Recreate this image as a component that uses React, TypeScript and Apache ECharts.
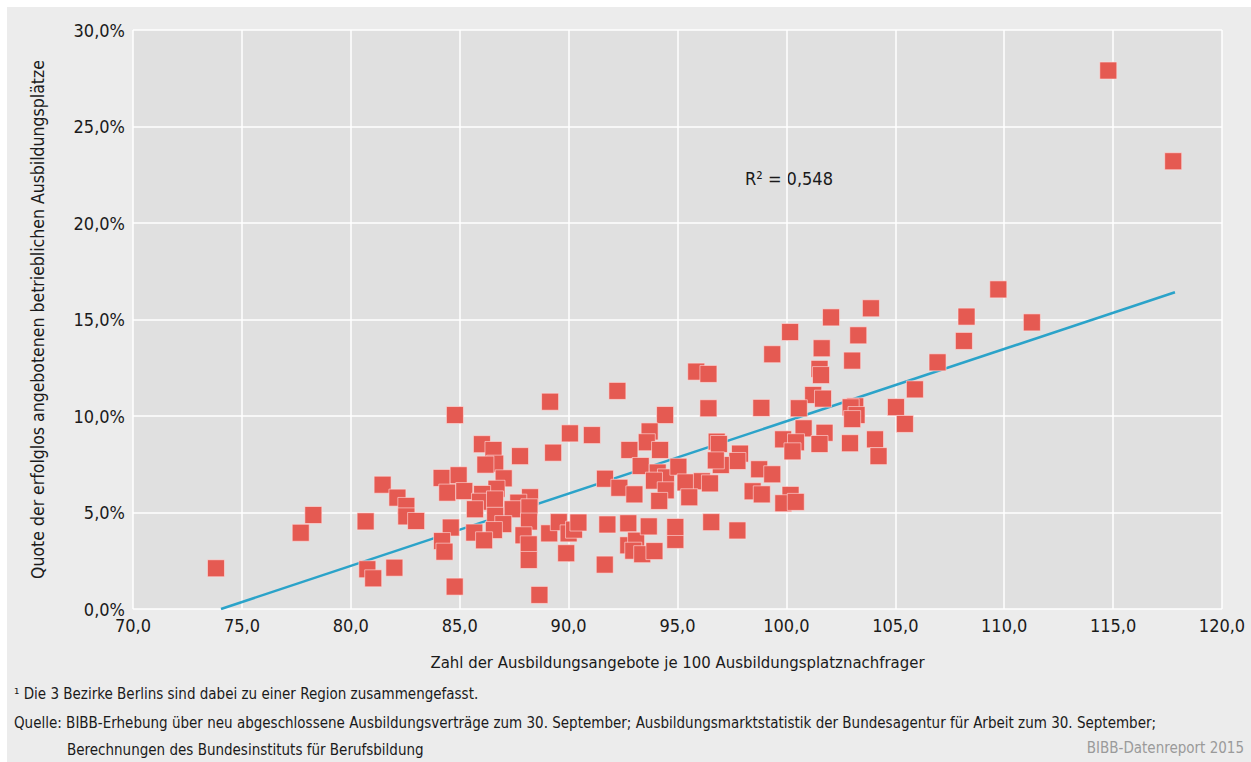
import React, { useEffect, useRef } from "react";
import * as echarts from "echarts";

// Zahl der Ausbildungsangebote je 100 Nachfrager (x) and Quote erfolglos angebotener Plätze in % (y)
const offerRatio: number[] = [
  73.81, 77.7, 78.28, 80.68, 80.76, 81.03, 81.46, 82.0, 82.14, 82.55, 82.55, 83.0,
  84.17, 84.95, 84.43, 85.21, 84.59, 84.19, 84.3, 84.78, 84.77, 86.02, 86.55, 86.63,
  86.18, 87.02, 87.77, 89.29, 90.06, 91.07, 89.15, 86.69, 88.23, 86.03, 85.93, 85.7,
  86.62, 87.69, 87.43, 88.2, 86.63, 87.0, 88.18, 86.57, 85.67, 86.12, 87.93, 88.17,
  88.17, 88.66, 89.11, 89.55, 89.89, 90.0, 90.25, 90.45,
  91.66, 91.78, 92.74, 92.74, 93.1, 92.97, 93.38, 93.68, 93.94, 94.9, 94.9, 96.55, 97.75,
  92.24, 96.42, 94.43, 95.86, 96.42, 93.72, 93.59, 94.2, 92.79, 96.8, 96.9, 97.87,
  97.75, 96.99, 96.76, 93.31, 94.09, 94.47, 93.92, 95.04, 95.37, 96.12, 96.49, 94.46,
  95.54, 94.16, 91.67, 92.33, 93.02, 98.45, 98.87, 100.19, 99.86, 100.43, 98.75, 99.35,
  99.35, 100.17, 101.62, 103.3, 103.02, 101.52, 101.59, 102.05, 103.88, 109.73, 108.27,
  111.27, 108.15, 106.94, 105.9, 101.23, 101.68, 98.85, 100.57, 103.16, 102.95, 103.22,
  103.02, 105.03, 105.44, 100.79, 101.75, 99.85, 100.44, 100.28, 101.52, 102.92, 104.07,
  104.23, 114.78, 117.76,
];
const failedQuota: number[] = [
  2.11, 3.95, 4.87, 4.54, 2.06, 1.59, 6.44, 2.14, 5.77, 5.34, 4.8, 4.56,
  6.79, 6.93, 6.03, 6.11, 4.22, 3.52, 2.97, 10.05, 1.16, 8.54, 8.24, 7.53,
  7.48, 6.77, 7.92, 8.1, 9.1, 9.01, 10.74, 6.23, 5.79, 5.96, 5.56, 5.17,
  5.68, 5.51, 5.17, 5.27, 4.83, 4.4, 4.53, 4.09, 3.96, 3.56, 3.82, 3.35,
  2.54, 0.73, 3.92, 4.5, 2.89, 3.92, 4.11, 4.48,
  2.3, 4.38, 4.44, 3.3, 3.54, 3.02, 2.84, 4.28, 3.0, 3.58, 4.25, 4.5, 4.07,
  11.3, 10.4, 10.05, 12.3, 12.18, 9.2, 8.64, 8.24, 8.24, 8.67, 8.55, 8.05,
  7.67, 7.46, 7.7, 7.41, 7.07, 6.82, 6.65, 7.37, 6.56, 6.62, 6.51, 6.15,
  5.79, 5.6, 6.75, 6.28, 5.94, 6.1, 5.94, 5.91, 5.48, 5.55, 7.24, 6.98,
  13.2, 14.35, 13.51, 14.18, 12.87, 12.44, 12.12, 15.11, 15.58, 16.56, 15.15,
  14.85, 13.89, 12.78, 11.38, 11.09, 10.9, 10.42, 10.4, 10.5, 10.45, 10.05,
  9.84, 10.46, 9.59, 9.36, 9.13, 8.79, 8.64, 8.17, 8.55, 8.59, 8.79,
  7.92, 27.9, 23.2,
];
// Regression line end points
const trendX: number[] = [74.04, 117.84];
const trendY: number[] = [0.0, 16.41];
const rSquaredLabel = "R² = 0,548";

const xTitle = "Zahl der Ausbildungsangebote je 100 Ausbildungsplatznachfrager";
const yTitle = "Quote der erfolglos angebotenen betrieblichen Ausbildungsplätze";
const footnote = "¹ Die 3 Bezirke Berlins sind dabei zu einer Region zusammengefasst.";
const source1 =
  "Quelle: BIBB-Erhebung über neu abgeschlossene Ausbildungsverträge zum 30. September; Ausbildungsmarktstatistik der Bundesagentur für Arbeit zum 30. September;";
const source2 = "Berechnungen des Bundesinstituts für Berufsbildung";
const credit = "BIBB-Datenreport 2015";

const FONT = "'Liberation Sans Narrow', 'DejaVu Sans Condensed', 'Noto Sans', sans-serif";
const TXT = "#1a1a1a";

const fmt1 = (v: number) => v.toFixed(1).replace(".", ",");

export default function App() {
  const ref = useRef<HTMLDivElement>(null);
  useEffect(() => {
    document.body.style.margin = "0";
    if (!ref.current) return;
    const chart = echarts.init(ref.current, undefined, { renderer: "svg" });
    const points = offerRatio.map((x, i) => [x, failedQuota[i]]);
    const trend = trendX.map((x, i) => [x, trendY[i]]);
    chart.setOption({
      animation: false,
      textStyle: { fontFamily: FONT },
      grid: { left: 133, top: 30, width: 1089, height: 579, show: true, backgroundColor: "#e0e0e0", borderWidth: 0 },
      xAxis: {
        type: "value",
        min: 70,
        max: 120,
        interval: 5,
        name: xTitle,
        nameLocation: "middle",
        nameGap: 45,
        nameTextStyle: { fontFamily: FONT, fontSize: 16.6, color: TXT },
        axisLine: { show: false },
        axisTick: { show: false },
        axisLabel: { formatter: (v: number) => fmt1(v), fontFamily: FONT, fontSize: 18, color: TXT, margin: 7 },
        splitLine: { show: true, lineStyle: { color: "#ffffff", width: 1.5 } },
      },
      yAxis: {
        type: "value",
        min: 0,
        max: 30,
        interval: 5,
        name: yTitle,
        nameLocation: "middle",
        nameGap: 86,
        nameRotate: 90,
        nameTextStyle: { fontFamily: FONT, fontSize: 17.5, color: TXT, padding: [0, 0, 0, 0] },
        axisLine: { show: false },
        axisTick: { show: false },
        axisLabel: { formatter: (v: number) => fmt1(v) + "%", fontFamily: FONT, fontSize: 18, color: TXT, margin: 8 },
        splitLine: { show: true, lineStyle: { color: "#ffffff", width: 1.5 } },
      },
      series: [
        {
          type: "line",
          data: trend,
          symbol: "none",
          z: 1,
          lineStyle: { color: "#2ba3c9", width: 2.5 },
        },
        {
          type: "scatter",
          data: points,
          symbol: "rect",
          symbolSize: 17,
          z: 2,
          itemStyle: { color: "#e55a52", opacity: 1, borderColor: "rgba(255,225,225,0.6)", borderWidth: 1 },
        },
      ],
      graphic: [
        { type: "text", left: 745, top: 169, style: { text: rSquaredLabel, font: `18px ${FONT}`, fill: TXT } },
        { type: "text", left: 14, top: 686, style: { text: footnote, font: `15px ${FONT}`, fill: TXT } },
        { type: "text", left: 14, top: 715, style: { text: source1, font: `15px ${FONT}`, fill: TXT } },
        { type: "text", left: 67, top: 742, style: { text: source2, font: `15px ${FONT}`, fill: TXT } },
        { type: "text", right: 7, top: 740, style: { text: credit, font: `15px ${FONT}`, fill: "#9a9a9a" } },
      ],
    });
    return () => chart.dispose();
  }, []);
  return (
    <div style={{ position: "fixed", left: 0, top: 0, width: 1251, height: 762, background: "#ffffff" }}>
      <div style={{ position: "absolute", left: 7, top: 7, right: 0, bottom: 0, background: "#ececec" }} />
      <div ref={ref} style={{ position: "absolute", left: 0, top: 0, width: 1251, height: 762 }} />
    </div>
  );
}
